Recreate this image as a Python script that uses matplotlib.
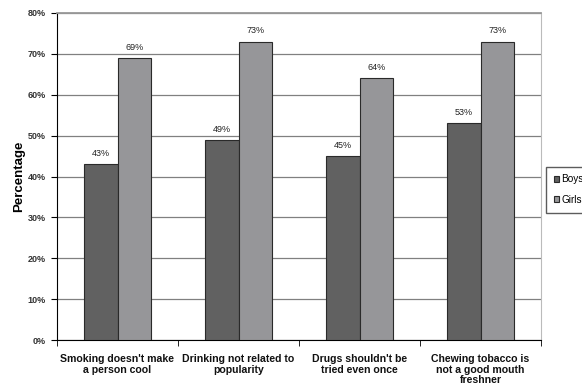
import matplotlib.pyplot as plt
import numpy as np

categories = ["Smoking doesn't make\na person cool",
              "Drinking not related to\npopularity",
              "Drugs shouldn't be\ntried even once",
              "Chewing tobacco is\nnot a good mouth\nfreshner"]
boys = [43, 49, 45, 53]
girls = [69, 73, 64, 73]
series_names = ["Boys", "Girls"]
yticks = [0, 10, 20, 30, 40, 50, 60, 70, 80]

plt.rcParams['font.family'] = ['Liberation Sans', 'DejaVu Sans']

fig = plt.figure(figsize=(5.82, 3.86), dpi=100)
ax = fig.add_axes([57/582, 1 - 340/386, 484/582, 327/386])

x = np.arange(len(categories))
w = 0.28
b1 = ax.bar(x - w/2, boys, w, color='#616161', edgecolor='#2a2a2a', linewidth=0.8, label=series_names[0], zorder=3)
b2 = ax.bar(x + w/2, girls, w, color='#969699', edgecolor='#2a2a2a', linewidth=0.8, label=series_names[1], zorder=3)

for bars, vals in [(b1, boys), (b2, girls)]:
    for r, v in zip(bars, vals):
        ax.text(r.get_x() + r.get_width()/2, v + 1.5, f"{v}%", ha='center', va='bottom', fontsize=6.5, color='#222222')

ax.set_xlim(-0.5, len(categories) - 0.5)
ax.set_ylim(0, 80)
ax.set_yticks(yticks)
ax.set_yticklabels([f"{t}%" for t in yticks], fontsize=6.5, fontweight='bold', color='#333333')
ax.yaxis.grid(True, color='#808080', linewidth=0.9, zorder=0)

ax.set_xticks(x)
ax.set_xticklabels(categories, fontsize=7.6, fontweight='bold', linespacing=1.08, color='#111111')
ax.tick_params(axis='x', which='major', length=0, pad=10)
ax.set_xticks(np.arange(-0.5, len(categories)), minor=True)
ax.tick_params(axis='x', which='minor', length=4, direction='out')
ax.tick_params(axis='y', length=4, direction='out', pad=4)

ax.spines['top'].set_color('#999999')
ax.spines['top'].set_linewidth(1.3)
ax.spines['right'].set_color('#bbbbbb')

ax.set_ylabel('Percentage', fontsize=9.5, fontweight='bold', labelpad=2)

ax.legend(loc='upper left', bbox_to_anchor=(546/582, 1 - 167/386), bbox_transform=fig.transFigure,
          fontsize=7.2, frameon=True, fancybox=False, edgecolor='#333333', handlelength=0.55,
          handleheight=0.55, borderpad=0.75, labelspacing=1.05, handletextpad=0.25, borderaxespad=0)

fig.savefig('out.png', dpi=100)
